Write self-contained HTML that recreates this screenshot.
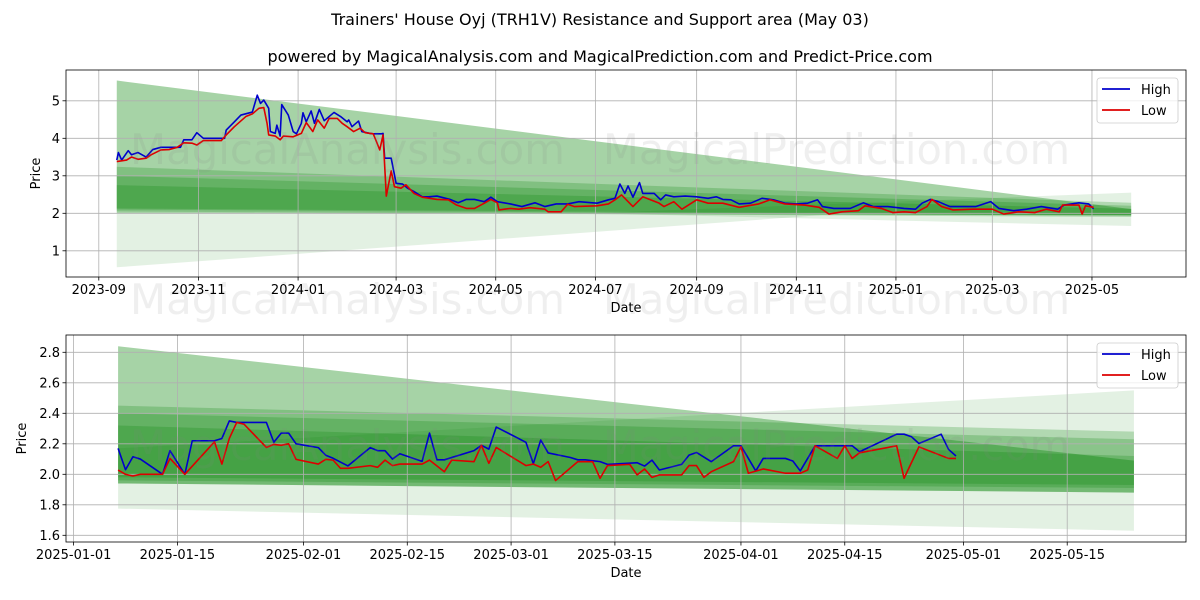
<!DOCTYPE html>
<html><head><meta charset="utf-8"><style>
html,body{margin:0;padding:0;background:#fff;}
svg{display:block;font-family:"DejaVu Sans","Liberation Sans",sans-serif;}
</style></head><body>
<svg id="c" width="1200" height="600" viewBox="0 0 1200 600" xmlns="http://www.w3.org/2000/svg">
<text x="600" y="25" text-anchor="middle" font-size="16" fill="#000">Trainers' House Oyj (TRH1V) Resistance and Support area (May 03)</text>
<text x="600" y="62" text-anchor="middle" font-size="16" fill="#000">powered by MagicalAnalysis.com and MagicalPrediction.com and Predict-Price.com</text>
<g id="top"></g>
<g id="bot"></g>
</svg>
<script>
// ---- Top chart data (day offsets from 2023-09-01) ----
const topHighDays=[11,12,14,18,20,24,29,33,38,43,50,52,57,60,64,71,77,78,83,87,94,97,99,101,104,105,108,109,111,112,116,119,121,124,125,127,130,132,135,138,141,144,148,152,153,155,159,161,166,168,173,174,175,179,182,186,189,193,198,202,207,215,220,225,230,236,240,244,252,259,267,273,280,287,294,305,312,316,319,322,324,327,331,333,340,344,347,352,359,366,373,378,382,387,392,399,406,413,420,427,434,440,443,450,460,468,474,483,493,500,504,509,514,521,528,537,546,551,560,568,577,587,591,600,606,609];
const topHigh=[3.42,3.62,3.42,3.67,3.56,3.62,3.5,3.7,3.76,3.76,3.76,3.96,3.96,4.15,4.0,4.0,4.0,4.22,4.44,4.62,4.7,5.15,4.93,5.02,4.8,4.18,4.13,4.35,4.06,4.9,4.62,4.18,4.12,4.4,4.68,4.44,4.73,4.4,4.77,4.47,4.58,4.69,4.58,4.44,4.49,4.31,4.46,4.18,4.13,4.12,4.12,4.13,3.47,3.47,2.8,2.78,2.67,2.58,2.44,2.44,2.46,2.37,2.28,2.37,2.37,2.31,2.43,2.31,2.25,2.18,2.28,2.18,2.25,2.25,2.31,2.27,2.36,2.4,2.78,2.53,2.73,2.43,2.82,2.53,2.53,2.36,2.49,2.44,2.46,2.44,2.4,2.44,2.37,2.36,2.25,2.27,2.4,2.36,2.27,2.25,2.27,2.36,2.18,2.13,2.13,2.28,2.18,2.18,2.13,2.11,2.27,2.37,2.31,2.18,2.18,2.18,2.31,2.13,2.07,2.11,2.18,2.11,2.22,2.28,2.25,2.12];
const topLowDays=[11,17,20,24,29,32,38,43,48,52,57,60,64,75,78,83,90,94,98,101,103,104,108,111,113,119,124,127,131,134,138,141,146,149,152,156,160,163,168,170,172,174,176,179,181,185,188,193,198,207,214,219,225,230,236,240,244,245,252,257,264,273,275,283,287,291,305,312,316,320,327,333,343,346,352,357,366,373,382,392,404,411,420,432,441,447,455,465,469,479,486,493,500,507,510,516,523,535,547,554,563,573,580,588,590,600,602,604,609];
const topLow=[3.38,3.42,3.5,3.44,3.47,3.56,3.69,3.7,3.76,3.88,3.87,3.82,3.94,3.94,4.09,4.31,4.58,4.65,4.8,4.82,4.4,4.09,4.06,3.96,4.06,4.04,4.13,4.42,4.18,4.49,4.27,4.53,4.53,4.4,4.31,4.18,4.27,4.15,4.12,3.91,3.69,4.09,2.46,3.13,2.71,2.67,2.76,2.53,2.43,2.37,2.36,2.22,2.13,2.13,2.27,2.37,2.28,2.09,2.13,2.11,2.15,2.11,2.04,2.04,2.24,2.18,2.2,2.25,2.36,2.49,2.18,2.44,2.27,2.18,2.31,2.11,2.36,2.27,2.27,2.16,2.25,2.36,2.25,2.22,2.16,1.98,2.04,2.07,2.2,2.13,2.02,2.04,2.02,2.18,2.37,2.18,2.09,2.11,2.11,1.98,2.04,2.02,2.11,2.04,2.22,2.22,1.98,2.2,2.16];
const topTickLabels=["2023-09","2023-11","2024-01","2024-03","2024-05","2024-07","2024-09","2024-11","2025-01","2025-03","2025-05"];
const topYTicks=[1,2,3,4,5];

// ---- Bottom chart data (day offsets from 2025-01-01) ----
const botHighDays=[6,7,8,9,12,13,15,16,19,20,21,22,26,27,28,29,30,33,34,35,37,40,41,42,43,44,47,48,49,50,54,55,56,57,61,62,63,64,67,68,69,71,72,76,77,78,79,82,83,84,86,89,90,92,93,96,97,98,100,105,106,111,112,113,114,117,118,119];
const botHigh=[2.17,2.03,2.115,2.1,2.0,2.155,2.0,2.22,2.22,2.235,2.35,2.34,2.34,2.21,2.27,2.27,2.2,2.175,2.125,2.105,2.055,2.175,2.155,2.155,2.1,2.135,2.085,2.27,2.095,2.095,2.155,2.19,2.165,2.31,2.21,2.07,2.225,2.14,2.11,2.095,2.095,2.083,2.065,2.076,2.054,2.093,2.028,2.065,2.126,2.143,2.083,2.187,2.187,2.022,2.104,2.104,2.087,2.022,2.187,2.187,2.148,2.263,2.263,2.246,2.202,2.263,2.163,2.12];
const botLowDays=[6,7,8,9,12,13,15,19,20,21,22,23,26,27,28,29,30,33,34,35,36,37,40,41,42,43,44,47,48,50,51,54,55,56,57,61,62,63,64,65,68,70,71,72,75,76,77,78,79,82,83,84,85,86,89,90,91,93,96,98,99,100,103,104,105,106,111,112,114,118,119];
const botLow=[2.028,2.0,1.989,2.0,2.0,2.104,2.0,2.213,2.067,2.235,2.34,2.328,2.176,2.196,2.19,2.2,2.098,2.067,2.098,2.093,2.039,2.039,2.057,2.046,2.093,2.057,2.067,2.067,2.093,2.017,2.093,2.083,2.19,2.072,2.176,2.057,2.067,2.046,2.083,1.959,2.083,2.083,1.974,2.057,2.065,1.996,2.035,1.98,1.996,1.996,2.057,2.057,1.98,2.017,2.083,2.18,2.007,2.035,2.007,2.007,2.028,2.187,2.104,2.187,2.104,2.141,2.187,1.974,2.18,2.104,2.104];
const botTickLabels=["2025-01-01","2025-01-15","2025-02-01","2025-02-15","2025-03-01","2025-03-15","2025-04-01","2025-04-15","2025-05-01","2025-05-15"];
const botYTicks=[1.6,1.8,2.0,2.2,2.4,2.6,2.8];

// Band definitions: [day0, lo0, hi0, day1, lo1, hi1, alpha]
const topBands=[[11,0.56,2.0,445,1.96,1.96,0.11],[300,2.0,2.0,632,1.66,2.55,0.11],[11,2.0,5.54,632,1.95,2.11,0.35],[11,2.05,3.24,632,1.9,2.28,0.22],[11,2.1,3.0,632,1.93,2.2,0.22],[11,2.13,2.75,632,1.95,2.12,0.22]];
const botBands=[[6,1.775,2.17,143,1.63,2.55,0.11],[6,1.94,2.84,143,1.88,2.09,0.35],[6,1.94,2.45,143,1.88,2.28,0.22],[6,1.96,2.4,143,1.91,2.23,0.22],[6,1.98,2.32,143,1.93,2.12,0.22]];

const NS="http://www.w3.org/2000/svg";
function mk(parent,tag,attrs){const e=document.createElementNS(NS,tag);for(const k in attrs)e.setAttribute(k,attrs[k]);parent.appendChild(e);return e;}
function dayOf(s,base){const p=s.split("-").map(Number);return (Date.UTC(p[0],p[1]-1,p[2]||1)-base)/86400000;}

function panel(g,cfg){
  const L=66,R=1186,T=cfg.top,B=cfg.bottom;
  const X=d=>cfg.x0+cfg.k*d, Y=v=>cfg.y0-cfg.ky*(v-cfg.yref);
  const clipId=cfg.id+"clip";
  const defs=mk(g,"defs",{});const cp=mk(defs,"clipPath",{id:clipId});mk(cp,"rect",{x:L,y:T,width:R-L,height:B-T});
  const inner=mk(g,"g",{"clip-path":"url(#"+clipId+")"});
  cfg.bands.forEach((b,i)=>{
    const pts=[[X(b[0]),Y(b[1])],[X(b[3]),Y(b[4])],[X(b[3]),Y(b[5])],[X(b[0]),Y(b[2])]];
    const p=mk(inner,"polygon",{points:pts.map(q=>q.join(",")).join(" "),fill:"rgb(0,128,0)","fill-opacity":b[6]});
    
    
  });
  // watermarks
  cfg.marks.forEach(m=>{const t=mk(g,"text",{x:m[0],y:m[1],"font-size":42,fill:"#808080","fill-opacity":0.13,textLength:m[3],lengthAdjust:"spacingAndGlyphs"});t.textContent=m[2];
    
    });
  // grid
  cfg.xt.forEach((lab,i)=>{const x=X(dayOf(lab,cfg.base));
    const l=mk(inner,"line",{x1:x,x2:x,y1:T,y2:B,stroke:"#b0b0b0","stroke-width":0.8});
    
    
    mk(g,"line",{x1:x,x2:x,y1:B,y2:B+3.5,stroke:"#000","stroke-width":0.8});
    const t=mk(g,"text",{x:x,y:B+17,"text-anchor":"middle","font-size":13,fill:"#000"});t.textContent=lab;
    
    
  });
  cfg.yt.forEach(v=>{const y=Y(v);
    const l=mk(inner,"line",{x1:L,x2:R,y1:y,y2:y,stroke:"#b0b0b0","stroke-width":0.8});
    
    
    mk(g,"line",{x1:L-3.5,x2:L,y1:y,y2:y,stroke:"#000","stroke-width":0.8});
    const t=mk(g,"text",{x:L-6,y:y+4.5,"text-anchor":"end","font-size":13,fill:"#000"});t.textContent=cfg.yfmt(v);
    
    
  });
  const hp=mk(inner,"polyline",{points:cfg.hd.map((d,i)=>X(d)+","+Y(cfg.hv[i])).join(" "),fill:"none",stroke:"#0000cc","stroke-width":1.6,"stroke-linejoin":"round"});
  
  
  const lp=mk(inner,"polyline",{points:cfg.ld.map((d,i)=>X(d)+","+Y(cfg.lv[i])).join(" "),fill:"none",stroke:"#dd0000","stroke-width":1.6,"stroke-linejoin":"round"});
  
  
  mk(g,"rect",{x:L,y:T,width:R-L,height:B-T,fill:"none",stroke:"#000","stroke-width":0.8});
  const xl=mk(g,"text",{x:626,y:B+35,"text-anchor":"middle","font-size":13});xl.textContent="Date";
  
  
  const yc=(T+B)/2;
  const yl=mk(g,"text",{x:cfg.ylx,y:yc,"text-anchor":"middle","font-size":13,transform:"rotate(-90 "+cfg.ylx+" "+yc+")"});yl.textContent="Price";
  
  
  // legend
  const lg=mk(g,"g",{});
  
  
  const ly=T+8;
  mk(lg,"rect",{x:1097,y:ly,width:81,height:45,rx:3,fill:"#fff","fill-opacity":0.8,stroke:"#ccc","stroke-width":0.8});
  mk(lg,"line",{x1:1102,x2:1130,y1:ly+11,y2:ly+11,stroke:"#0000cc","stroke-width":1.8});
  mk(lg,"line",{x1:1102,x2:1130,y1:ly+32,y2:ly+32,stroke:"#dd0000","stroke-width":1.8});
  const t1=mk(lg,"text",{x:1141,y:ly+16,"font-size":13});t1.textContent="High";
  
  
  const t2=mk(lg,"text",{x:1141,y:ly+37,"font-size":13});t2.textContent="Low";
  
  
}

panel(document.getElementById("top"),{id:"t",top:70,bottom:277,base:Date.UTC(2023,8,1),x0:98.8,k:1.6335,y0:213.3,yref:2,ky:37.5,
  bands:topBands,xt:topTickLabels,yt:topYTicks,yfmt:v=>String(v),hd:topHighDays,hv:topHigh,ld:topLowDays,lv:topLow,ylx:40,
  marks:[[130,164,"MagicalAnalysis.com",435],[603,164,"MagicalPrediction.com",467],[130,314,"MagicalAnalysis.com",435],[603,314,"MagicalPrediction.com",467]]});
panel(document.getElementById("bot"),{id:"b",top:335,bottom:542,base:Date.UTC(2025,0,1),x0:73.6,k:7.415,y0:474.3,yref:2,ky:152.5,
  bands:botBands,xt:botTickLabels,yt:botYTicks,yfmt:v=>v.toFixed(1),hd:botHighDays,hv:botHigh,ld:botLowDays,lv:botLow,ylx:26,
  marks:[[130,460,"MagicalAnalysis.com",435],[603,460,"MagicalPrediction.com",467]]});
</script>
</body></html>
